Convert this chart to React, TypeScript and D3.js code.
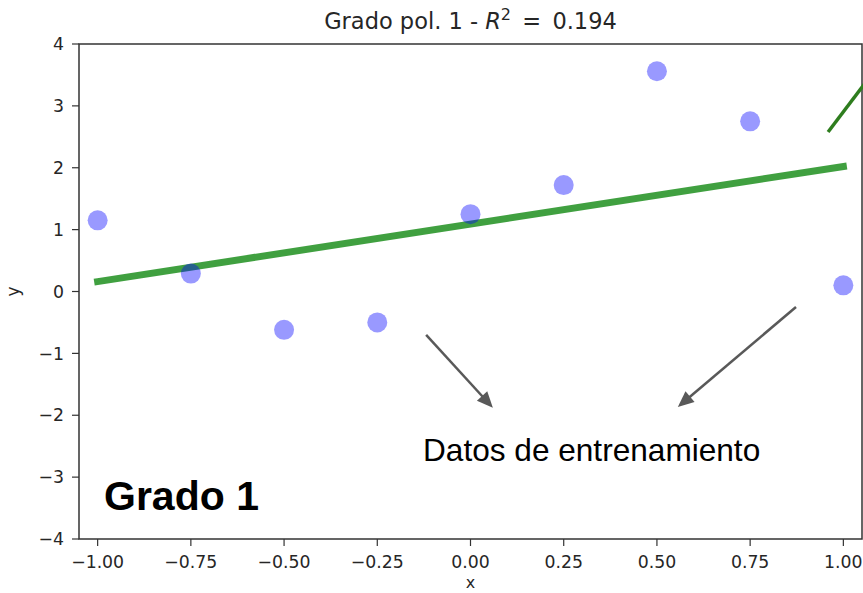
import React from "react";
import * as d3 from "d3";

const xData = [-1, -0.75, -0.5, -0.25, 0, 0.25, 0.5, 0.75, 1];
const yData = [1.15, 0.29, -0.62, -0.5, 1.25, 1.72, 3.56, 2.75, 0.1];
const fitX = [-1, 1];
const fitY = [0.16, 2.02];
const xTicks = [-1, -0.75, -0.5, -0.25, 0, 0.25, 0.5, 0.75, 1];
const yTicks = [-4, -3, -2, -1, 0, 1, 2, 3, 4];
const arrows = [
  { x1: -0.119, y1: -0.70, x2: 0.06, y2: -1.88 },
  { x1: 0.873, y1: -0.25, x2: 0.556, y2: -1.867 },
];
const greenPointer = { x1: 0.959, y1: 2.578, x2: 1.075, y2: 3.5 };

const W = 863;
const H = 593;
const M = { left: 79, right: 862, top: 44, bottom: 539 };
const tickFont = "'DejaVu Sans', sans-serif";

export default function App() {
  const x = d3.scaleLinear().domain([-1.05, 1.05]).range([M.left, M.right]);
  const y = d3.scaleLinear().domain([-4, 4]).range([M.bottom, M.top]);
  const fmtX = (v: number) => d3.format(".2f")(v).replace("-", "\u2212");
  const fmtY = (v: number) => String(v).replace("-", "\u2212");
  const line = d3.line<[number, number]>().x((d) => x(d[0])).y((d) => y(d[1]));
  const fitPts: [number, number][] = fitX.map((v, i) => [v, fitY[i]]);

  const arrowHead = (a: { x1: number; y1: number; x2: number; y2: number }) => {
    const X1 = x(a.x1), Y1 = y(a.y1), X2 = x(a.x2), Y2 = y(a.y2);
    const ang = Math.atan2(Y2 - Y1, X2 - X1);
    const L = 16, Wd = 7;
    const bx = X2 - L * Math.cos(ang), by = Y2 - L * Math.sin(ang);
    const px = -Math.sin(ang) * Wd, py = Math.cos(ang) * Wd;
    return {
      line: { X1, Y1, X2: bx + 2 * Math.cos(ang), Y2: by + 2 * Math.sin(ang) },
      pts: `${X2},${Y2} ${bx + px},${by + py} ${bx - px},${by - py}`,
    };
  };

  return (
    <svg width={W} height={H} style={{ position: "absolute", left: 0, top: 0, background: "#fff" }}>
      <defs>
        <clipPath id="plot">
          <rect x={M.left} y={M.top} width={M.right - M.left} height={M.bottom - M.top} />
        </clipPath>
      </defs>
      {/* title */}
      <text x={(M.left + M.right) / 2} y={29} textAnchor="middle" fontFamily={tickFont} fontSize={22.5} fill="#262626">
        Grado pol. 1 - <tspan fontStyle="italic">R</tspan>
        <tspan fontSize={16} dy={-9}>2</tspan>
        <tspan dy={9}>{"\u2002=\u20020.194"}</tspan>
      </text>
      {/* fit line */}
      <path d={line(fitPts) || ""} stroke="#008000" strokeOpacity={0.75} strokeWidth={7} fill="none" strokeLinecap="square" clipPath="url(#plot)" />
      {/* points */}
      {xData.map((v, i) => (
        <circle key={i} cx={x(v)} cy={y(yData[i])} r={10} fill="#0000ff" fillOpacity={0.4} />
      ))}
      {/* axes frame */}
      <rect x={M.left} y={M.top} width={M.right - M.left} height={M.bottom - M.top} fill="none" stroke="#333" strokeWidth={1.5} />
      {/* x ticks */}
      {xTicks.map((t) => (
        <g key={"x" + t}>
          <line x1={x(t)} x2={x(t)} y1={M.bottom} y2={M.bottom + 7} stroke="#333" strokeWidth={1.2} />
          <text x={x(t)} y={568} textAnchor="middle" fontFamily={tickFont} fontSize={17.3} fill="#262626">
            {fmtX(t)}
          </text>
        </g>
      ))}
      {/* y ticks */}
      {yTicks.map((t) => (
        <g key={"y" + t}>
          <line x1={M.left - 7} x2={M.left} y1={y(t)} y2={y(t)} stroke="#333" strokeWidth={1.2} />
          <text x={64} y={y(t)} dy="0.36em" textAnchor="end" fontFamily={tickFont} fontSize={17.3} fill="#262626">
            {fmtY(t)}
          </text>
        </g>
      ))}
      {/* axis labels */}
      <text x={(M.left + M.right) / 2} y={588} textAnchor="middle" fontFamily={tickFont} fontSize={16} fill="#262626">
        x
      </text>
      <text transform={`translate(19, ${y(0)}) rotate(-90)`} textAnchor="middle" fontFamily={tickFont} fontSize={17} fill="#262626">
        y
      </text>
      {/* green pointer */}
      <line x1={x(greenPointer.x1)} y1={y(greenPointer.y1)} x2={x(greenPointer.x2)} y2={y(greenPointer.y2)} stroke="#2e7d1e" strokeWidth={3.5} />
      {/* gray arrows */}
      {arrows.map((a, i) => {
        const h = arrowHead(a);
        return (
          <g key={"a" + i}>
            <line x1={h.line.X1} y1={h.line.Y1} x2={h.line.X2} y2={h.line.Y2} stroke="#595959" strokeWidth={2.5} />
            <polygon points={h.pts} fill="#595959" />
          </g>
        );
      })}
      <text x={423} y={461} fontFamily="'Liberation Sans', Arial, sans-serif" fontSize={31.6} fill="#000">
        Datos de entrenamiento
      </text>
      <text x={104} y={510} fontFamily="'Liberation Sans', Arial, sans-serif" fontWeight="bold" fontSize={41} fill="#000">
        Grado 1
      </text>
    </svg>
  );
}
